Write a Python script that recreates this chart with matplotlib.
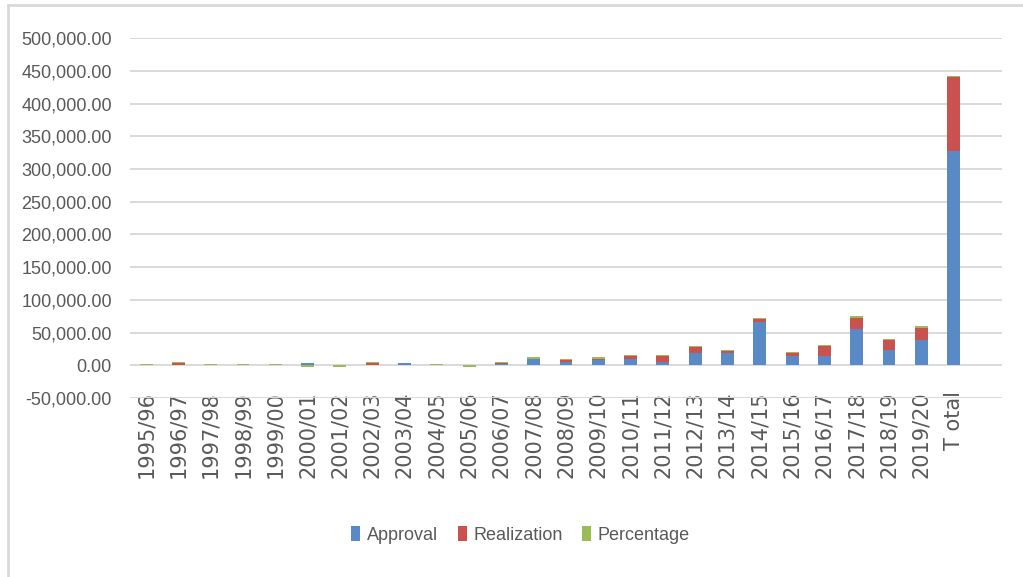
import numpy as np
import matplotlib.pyplot as plt
from matplotlib.lines import Line2D
from matplotlib.ticker import FuncFormatter

years = ['1995/96', '1996/97', '1997/98', '1998/99', '1999/00', '2000/01',
         '2001/02', '2002/03', '2003/04', '2004/05', '2005/06', '2006/07',
         '2007/08', '2008/09', '2009/10', '2010/11', '2011/12', '2012/13',
         '2013/14', '2014/15', '2015/16', '2016/17', '2017/18', '2018/19',
         '2019/20', 'T otal']
approval = [0, 0, 0, 0, 0, 3000, 0, 0, 3000, 0, 0, 2600, 9800, 4600, 7700,
            9800, 4600, 19000, 19000, 66000, 14400, 15000, 55100, 24200,
            38100, 327500]
realization = [0, 3600, 0, 0, 0, 0, 0, 3600, 0, 0, 0, 500, 500, 3600, 2600,
               4600, 9800, 8800, 3100, 4600, 4600, 13900, 18000, 13900,
               19000, 112800]
percentage = [2000, 2000, 2000, 2000, 2000, -3000, -3000, 2000, 0, 2000,
              -3000, 2000, 2000, 2000, 2000, 2000, 2000, 2500, 2000, 2000,
              2000, 2500, 2500, 2500, 2500, 2500]

series = [('Approval', approval, '#5A8AC6'),
          ('Realization', realization, '#C9524F'),
          ('Percentage', percentage, '#9BBB59')]

txt = '#595959'
narrow = ['Liberation Sans', 'DejaVu Sans']

fig = plt.figure(figsize=(10.23, 5.77), dpi=100)
ax = fig.add_axes([0.127, 0.31, 0.8525, 0.624])

x = np.arange(len(years))
pos = np.zeros(len(years))
neg = np.zeros(len(years))
for name, vals, col in series:
    v = np.array(vals, dtype=float)
    bottom = np.where(v >= 0, pos, neg)
    ax.bar(x, v, width=0.4, bottom=bottom, color=col, label=name, zorder=3)
    pos += np.where(v >= 0, v, 0)
    neg += np.where(v < 0, v, 0)

ax.set_xlim(-0.5, 26.5)
ax.set_ylim(-50000, 500000)
ax.set_yticks(np.arange(-50000, 500001, 50000))
ax.yaxis.set_major_formatter(FuncFormatter(lambda v, p: '{:,.2f}'.format(v)))
ax.grid(axis='y', color='#D9D9D9', lw=1.4, zorder=0)
ax.set_axisbelow(True)
for s in ax.spines.values():
    s.set_visible(False)

ax.set_xticks(x)
ax.set_xticklabels(years, rotation=90, color=txt, fontsize=15,
                   family='DejaVu Sans', va='top')
ax.tick_params(axis='x', length=0, pad=-5)
ax.tick_params(axis='y', length=0, pad=13, colors=txt)
for t in ax.get_yticklabels():
    t.set_family(narrow)
    t.set_fontsize(13)

leg = ax.legend(loc='center', bbox_to_anchor=(0.448, -0.38), ncol=3,
                frameon=False, handlelength=0.5, handleheight=0.9,
                handletextpad=0.35, columnspacing=1.1,
                prop={'family': narrow, 'size': 13})
for t in leg.get_texts():
    t.set_color(txt)

# light frame on the left and top edges
fig.add_artist(Line2D([8 / 1023, 8 / 1023], [0, 1 - 5 / 577],
                      transform=fig.transFigure, color='#D9D9D9', lw=2))
fig.add_artist(Line2D([8 / 1023, 1], [1 - 5 / 577, 1 - 5 / 577],
                      transform=fig.transFigure, color='#D9D9D9', lw=2))

fig.savefig('out.png', dpi=100)
